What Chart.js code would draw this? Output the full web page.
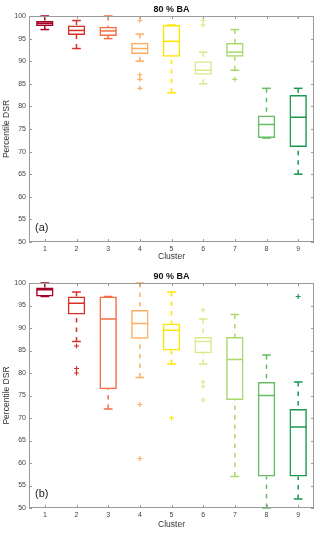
<!DOCTYPE html>
<html>
<head>
<meta charset="utf-8">
<script src="https://cdn.jsdelivr.net/npm/chart.js@4/dist/chart.umd.min.js"></script>
<style>
  html, body { margin: 0; padding: 0; background: #fff; }
  #wrap { position: relative; width: 320px; height: 533px; }
  canvas { position: absolute; left: 0; }
</style>
</head>
<body>
<div id="wrap">
  <canvas id="chartA" width="320" height="262" style="top:0"></canvas>
  <canvas id="chartB" width="320" height="271" style="top:262px"></canvas>
</div>
<script>
const clusters = ['1', '2', '3', '4', '5', '6', '7', '8', '9'];
const clusterColors = ['#a50026', '#d73027', '#f46d43', '#fdae61', '#ffe600', '#d9ea8b', '#a6d96a', '#66bd63', '#1a9850'];

// 80 % BA
const q1A  = [97.8, 95.8, 95.6, 91.6, 91, 87, 91, 73, 71];
const medA = [98.4, 96.8, 96.7, 92.8, 94.4, 88, 92, 76, 77.6];
const q3A  = [98.9, 97.9, 97.6, 94.1, 98, 90, 94, 78, 82.5];
const loA  = [97, 92.8, 95, 90, 83, 85, 88, 73, 65];
const hiA  = [100, 99, 100, 96, 98, 92, 97, 84, 84];
const outClusterA = [4, 4, 4, 4, 4, 6, 6, 7, 9];
const outValueA   = [100, 99, 87, 86, 84, 99, 98, 86, 100];

// 90 % BA
const q1B  = [97, 93, 76.4, 87.6, 85, 84.4, 74, 57, 57];
const medB = [98.5, 95.5, 92, 91, 89.5, 87, 83, 75, 68];
const q3B  = [99, 97, 97, 94, 91, 88, 88, 78, 72];
const loB  = [97, 87, 72, 79, 82, 82, 57, 50, 52];
const hiB  = [100, 98, 97, 100, 98, 92, 93, 84, 78];
const outClusterB = [2, 2, 2, 4, 4, 5, 6, 6, 6, 6, 9];
const outValueB   = [86, 81, 80, 73, 61, 70, 94, 78, 77, 74, 97];

const FONT = "'Liberation Sans', Arial, sans-serif";

function boxExtras(stats, title, tag) {
  return {
    id: 'boxExtras',
    afterDatasetsDraw(chart) {
      const { ctx, chartArea: a, scales: { x, y } } = chart;
      const bars = chart.getDatasetMeta(0).data;
      const seg = (x1, y1, x2, y2) => {
        ctx.beginPath(); ctx.moveTo(x1, y1); ctx.lineTo(x2, y2); ctx.stroke();
      };
      ctx.save();
      ctx.beginPath();
      ctx.rect(a.left, a.top - 1, a.right - a.left, a.bottom - a.top + 2);
      ctx.clip();
      clusters.forEach((c, i) => {
        const cx = x.getPixelForValue(i);
        const half = bars[i].width / 2;
        const cap = half / 2;
        ctx.strokeStyle = clusterColors[i];
        ctx.lineWidth = 1.5;
        // whiskers
        ctx.setLineDash([4.5, 5]);
        if (stats.hi[i] > stats.q3[i]) seg(cx, y.getPixelForValue(stats.hi[i]), cx, y.getPixelForValue(stats.q3[i]));
        if (stats.lo[i] < stats.q1[i]) seg(cx, y.getPixelForValue(stats.lo[i]), cx, y.getPixelForValue(stats.q1[i]));
        ctx.setLineDash([]);
        // caps
        const yh = y.getPixelForValue(stats.hi[i]);
        const yl = y.getPixelForValue(stats.lo[i]);
        seg(cx - cap, yh, cx + cap, yh);
        seg(cx - cap, yl, cx + cap, yl);
        // median
        const ym = y.getPixelForValue(stats.med[i]);
        seg(cx - half + 0.75, ym, cx + half - 0.75, ym);
      });
      ctx.restore();
    },
    afterDraw(chart) {
      const { ctx, chartArea: a, scales: { x, y } } = chart;
      ctx.save();
      ctx.strokeStyle = '#9a9a9a';
      ctx.lineWidth = 1;
      ctx.strokeRect(a.left + 0.5, a.top + 0.5, a.right - a.left - 1, a.bottom - a.top - 1);
      ctx.beginPath();
      y.ticks.forEach(t => {
        const py = Math.round(y.getPixelForValue(t.value)) + 0.5;
        ctx.moveTo(a.left, py); ctx.lineTo(a.left + 3, py);
        ctx.moveTo(a.right, py); ctx.lineTo(a.right - 3, py);
      });
      clusters.forEach((c, i) => {
        const px = Math.round(x.getPixelForValue(i)) + 0.5;
        ctx.moveTo(px, a.bottom); ctx.lineTo(px, a.bottom - 3);
        ctx.moveTo(px, a.top); ctx.lineTo(px, a.top + 3);
      });
      ctx.stroke();
      // title
      ctx.fillStyle = '#111';
      ctx.font = 'bold 9px ' + FONT;
      ctx.textAlign = 'center';
      ctx.textBaseline = 'middle';
      ctx.fillText(title, (a.left + a.right) / 2, a.top - 6);
      // panel tag
      ctx.font = '11px ' + FONT;
      ctx.textAlign = 'left';
      ctx.fillStyle = '#222';
      ctx.fillText(tag, a.left + 6, a.bottom - 14);
      ctx.restore();
    }
  };
}

function makeBoxChart(id, stats, outCluster, outValue, title, tag, padTop, xHeight, xTitlePad) {
  const ctx = document.getElementById(id);
  return new Chart(ctx, {
    type: 'bar',
    data: {
      labels: clusters,
      datasets: [{
        type: 'bar',
        data: clusters.map((c, i) => [stats.q1[i], stats.q3[i]]),
        backgroundColor: 'rgba(255,255,255,0)',
        borderColor: clusterColors,
        borderWidth: 1.5,
        borderSkipped: false,
        barPercentage: 0.55,
        categoryPercentage: 1
      }, {
        type: 'line',
        data: outCluster.map((c, k) => ({ x: clusters[c - 1], y: outValue[k] })),
        showLine: false,
        pointStyle: 'cross',
        pointRadius: 2.5,
        pointBorderWidth: 1.2,
        pointBorderColor: outCluster.map(c => clusterColors[c - 1])
      }]
    },
    options: {
      responsive: false,
      animation: false,
      layout: { padding: { top: padTop, right: 6, left: 0, bottom: 0 } },
      plugins: {
        legend: { display: false },
        tooltip: { enabled: false }
      },
      scales: {
        x: {
          grid: { display: false, drawTicks: false },
          border: { display: false },
          ticks: { color: '#444', font: { size: 7, family: FONT }, padding: 3, maxRotation: 0 },
          title: { display: true, text: 'Cluster', color: '#333', font: { size: 8.5, family: FONT }, padding: { top: 0, bottom: xTitlePad } },
          afterFit(s) { s.height = xHeight; }
        },
        y: {
          min: 50,
          max: 100,
          grid: { display: false, drawTicks: false },
          border: { display: false },
          ticks: { stepSize: 5, color: '#444', font: { size: 7, family: FONT }, padding: 3 },
          title: { display: true, text: 'Percentile DSR', color: '#333', font: { size: 8.5, family: FONT }, padding: { top: 2, bottom: 0 } },
          afterFit(s) { s.width = 29; }
        }
      }
    },
    plugins: [boxExtras(stats, title, tag)]
  });
}

makeBoxChart('chartA', { q1: q1A, med: medA, q3: q3A, lo: loA, hi: hiA }, outClusterA, outValueA, '80 % BA', '(a)', 16, 20, 0);
makeBoxChart('chartB', { q1: q1B, med: medB, q3: q3B, lo: loB, hi: hiB }, outClusterB, outValueB, '90 % BA', '(b)', 21, 25, 3);
</script>
</body>
</html>
